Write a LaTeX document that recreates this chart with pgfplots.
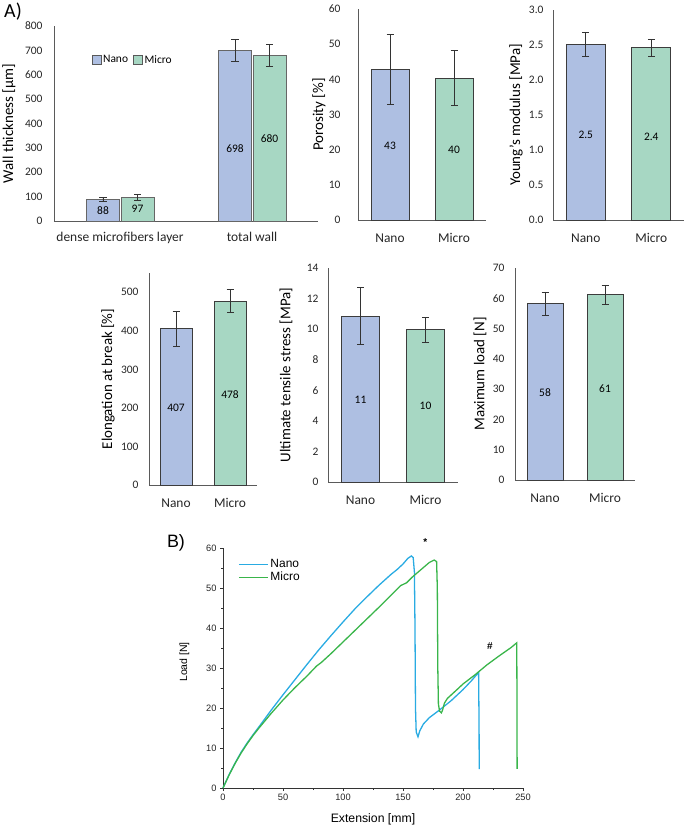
\documentclass[border=0pt]{standalone}
\usepackage{pgfplots}
\pgfplotsset{compat=1.18}
\usepackage{fontspec}
\setmainfont{Carlito}
\newfontfamily\arial{Liberation Sans}
\definecolor{nanoF}{RGB}{174,191,226}
\definecolor{microF}{RGB}{167,215,195}
\definecolor{barB}{RGB}{60,60,60}
\definecolor{axG}{RGB}{90,90,90}
\definecolor{nanoL}{RGB}{41,171,226}
\definecolor{microL}{RGB}{57,181,74}
\pgfplotsset{
  panel/.style={
    scale only axis, ybar, clip=false,
    axis x line*=bottom, axis y line*=left,
    axis line style={axG, line width=0.9pt},
    ymin=0, xmin=-0.5, xmax=1.5, xtick={0,1}, xticklabels={Nano,Micro},
    major tick length=0pt, minor tick length=0pt,
    /pgf/number format/assume math mode=true,
    tick label style={font=\fontsize{11.5}{13}\selectfont, text=black!85},
    xticklabel style={font=\fontsize{13.5}{15}\selectfont, yshift=-10bp},
    every axis y label/.style={at={(axis description cs:0,0.5)}, rotate=90, anchor=center, font=\fontsize{15}{17}\selectfont},
  },
  errs/.style={error bars/.cd, y dir=both, y explicit,
    error bar style={black!80, line width=0.8pt},
    error mark options={black!80, line width=0.8pt, rotate=90, mark size=3.5bp}},
  nanob/.style={fill=nanoF, draw=barB, line width=0.8pt, bar shift=0pt},
  microb/.style={fill=microF, draw=barB, line width=0.8pt, bar shift=0pt},
}
\newcommand{\vl}{\fontsize{11.5}{13}\selectfont}
\begin{document}
\begin{tikzpicture}
\useasboundingbox (0,0) rectangle (685bp,827bp);
\node[font=\fontsize{20}{22}\selectfont, anchor=center] at (13bp,815bp) {A)};
\node[font=\arial\fontsize{18}{20}\selectfont, anchor=center] at (176bp,284bp) {B)};

% Panel 1: wall thickness
\begin{axis}[panel, at={(54bp,606bp)}, anchor=south west, width=264bp, height=195bp,
  ymax=800, ytick={0,100,...,800}, bar width=33bp,
  xticklabels={dense microfibers layer,total wall},
  xticklabel style={yshift=2bp},
  yticklabel style={xshift=-8bp},
  ylabel={Wall thickness [µm]}, ylabel style={yshift=45bp},
  legend style={at={(axis description cs:0.13,0.826)}, anchor=west, draw=none, fill=none,
    legend columns=2, font=\fontsize{11.5}{13}\selectfont,
    /tikz/every even column/.append style={column sep=3bp}},
  legend cell align=left]
\addplot[forget plot, fill=nanoF, draw=black!60, line width=0.8pt, bar shift=-17bp, errs]
  coordinates {(0,88) +- (0,9.5) (1,698) +- (0,45)};
\addplot[forget plot, fill=microF, draw=black!60, line width=0.8pt, bar shift=17.5bp, errs]
  coordinates {(0,97) +- (0,11.5) (1,680) +- (0,46)};
\addlegendimage{legend image code/.code={\draw[fill=nanoF,draw=black!65,line width=0.6pt] (0bp,-4.5bp) rectangle (9bp,4.5bp);}}
\addlegendentry{Nano}
\addlegendimage{legend image code/.code={\draw[fill=microF,draw=black!65,line width=0.6pt] (0bp,-4.5bp) rectangle (9bp,4.5bp);}}
\addlegendentry{Micro}
\node[font=\vl] at (axis cs:0,44) [xshift=-17bp] {88};
\node[font=\vl] at (axis cs:0,50) [xshift=17.5bp] {97};
\node[font=\vl] at (axis cs:1,298) [xshift=-17bp] {698};
\node[font=\vl] at (axis cs:1,339) [xshift=17.5bp] {680};
\end{axis}

% Panel 2: porosity
\begin{axis}[panel, at={(358bp,607bp)}, anchor=south west, width=128bp, height=211bp,
  ymax=60, ytick={0,10,...,60}, bar width=38bp,
  yticklabel style={xshift=-14bp},
  ylabel={Porosity [\%]}, ylabel style={yshift=39bp}]
\addplot[nanob, errs] coordinates {(0,42.8) +- (0,10)};
\addplot[microb, errs] coordinates {(1,40.4) +- (0,7.7)};
\node[font=\vl] at (axis cs:0,21) {43};
\node[font=\vl] at (axis cs:1,20) {40};
\end{axis}

% Panel 3: Young's modulus
\begin{axis}[panel, at={(553bp,607bp)}, anchor=south west, width=131bp, height=210bp,
  ymax=3, ytick={0,0.5,...,3}, bar width=39bp,
  yticklabel style={xshift=-6bp, /pgf/number format/.cd, fixed, fixed zerofill, precision=1},
  ylabel={Young's modulus [MPa]}, ylabel style={yshift=37bp}]
\addplot[nanob, errs] coordinates {(0,2.51) +- (0,0.17)};
\addplot[microb, errs] coordinates {(1,2.46) +- (0,0.12)};
\node[font=\vl] at (axis cs:0,1.21) {2.5};
\node[font=\vl] at (axis cs:1,1.19) {2.4};
\end{axis}

% Panel 4: Elongation
\begin{axis}[panel, at={(149bp,342bp)}, anchor=south west, width=108bp, height=212bp,
  ymax=550, ytick={0,100,...,500}, bar width=32bp,
  yticklabel style={xshift=-7bp},
  ylabel={Elongation at break [\%]}, ylabel style={yshift=41bp}]
\addplot[nanob, errs] coordinates {(0,405) +- (0,46)};
\addplot[microb, errs] coordinates {(1,477) +- (0,30)};
\node[font=\vl] at (axis cs:0,201) {407};
\node[font=\vl] at (axis cs:1,235) {478};
\end{axis}

% Panel 5: UTS
\begin{axis}[panel, at={(328bp,345bp)}, anchor=south west, width=130bp, height=214bp,
  ymax=14, ytick={0,2,...,14}, bar width=38bp,
  yticklabel style={xshift=-6bp},
  ylabel={Ultimate tensile stress [MPa]}, ylabel style={yshift=42bp}]
\addplot[nanob, errs] coordinates {(0,10.85) +- (0,1.85)};
\addplot[microb, errs] coordinates {(1,9.96) +- (0,0.82)};
\node[font=\vl] at (axis cs:0,5.36) {11};
\node[font=\vl] at (axis cs:1,5.0) {10};
\end{axis}

% Panel 6: Max load
\begin{axis}[panel, at={(515bp,347bp)}, anchor=south west, width=120bp, height=212bp,
  ymax=70, ytick={0,10,...,70}, bar width=36bp,
  yticklabel style={xshift=-7bp},
  ylabel={Maximum load [N]}, ylabel style={yshift=35bp}]
\addplot[nanob, errs] coordinates {(0,58.3) +- (0,3.8)};
\addplot[microb, errs] coordinates {(1,61.2) +- (0,3.2)};
\node[font=\vl] at (axis cs:0,28.9) {58};
\node[font=\vl] at (axis cs:1,30.3) {61};
\end{axis}

% Panel B: load-extension
\begin{axis}[at={(223bp,39bp)}, anchor=south west, scale only axis, width=300bp, height=240bp,
  clip=false,
  xmin=0, xmax=250, ymin=0, ymax=60,
  axis x line*=bottom, axis y line*=left,
  axis line style={black!80, line width=0.7pt},
  tick align=outside, tick style={black!80, line width=0.7pt},
  major tick length=3bp, minor tick length=2bp,
  xtick={0,50,...,250}, ytick={0,10,...,60}, minor tick num=1,
  /pgf/number format/assume math mode=true,
  tick label style={font=\arial\fontsize{9.3}{10}\selectfont, text=black!85},
  xlabel={Extension [mm]}, ylabel={Load [N]},
  xlabel style={font=\arial\fontsize{12.3}{14}\selectfont, yshift=-6bp},
  ylabel style={font=\arial\fontsize{10.5}{12}\selectfont, yshift=10bp, xshift=6bp},
  legend style={at={(axis description cs:0.04,0.97)}, anchor=north west, draw=none, fill=none,
    font=\arial\fontsize{12}{13}\selectfont, row sep=-1bp},
  legend cell align=left,
  legend image code/.code={\draw[#1] (0bp,0bp) -- (29bp,0bp);}]
\addplot[nanoL, line width=1.3pt, mark=none] coordinates {
(0,0) (5,3.3) (10,6.2) (15,8.9) (20,11.2) (25,13.3) (30,15.3) (40,19.4) (50,23.3)
(60,27.1) (70,30.9) (80,34.6) (90,38.1) (100,41.5) (110,44.8) (120,47.8) (130,50.7)
(140,53.4) (145,54.6) (150,56) (154,57.4) (157,58) (158.5,57.6) (159.5,54) (160,40)
(160.4,20) (161,14) (162.5,12.8) (164,14.3) (167,16) (172,17.6) (180,19.4) (190,21.8)
(200,24.6) (207,26.8) (213,28.9) (213.4,15) (213.5,4.7)};
\addlegendentry{Nano}
\addplot[microL, line width=1.3pt, mark=none] coordinates {
(0,0) (5,3.2) (10,6.1) (15,8.7) (20,11) (25,13.1) (30,15) (40,18.6) (50,22) (60,25.1)
(70,28) (78,30.5) (82,31.4) (90,33.6) (100,36.5) (110,39.4) (120,42.3) (130,45.2)
(140,48.2) (148,50.6) (153,51.3) (158,52.8) (165,54.6) (172,56.4) (176,57) (178,56.6)
(178.6,50) (179,30) (179.5,21) (180.5,19.2) (182,18.8) (183,19.5) (184.5,21.2) (187,22.4)
(195,24.6) (200,26) (210,28.3) (220,30.8) (230,33) (240,35.1) (244.8,36.3) (245,20) (245.1,4.8)};
\addlegendentry{Micro}
\node[font=\arial\bfseries\fontsize{10}{12}\selectfont] at (axis cs:168.6,61.5) {*};
\node[font=\arial\bfseries\fontsize{10}{12}\selectfont] at (axis cs:222.5,35.5) {\#};
\end{axis}
\end{tikzpicture}
\end{document}
